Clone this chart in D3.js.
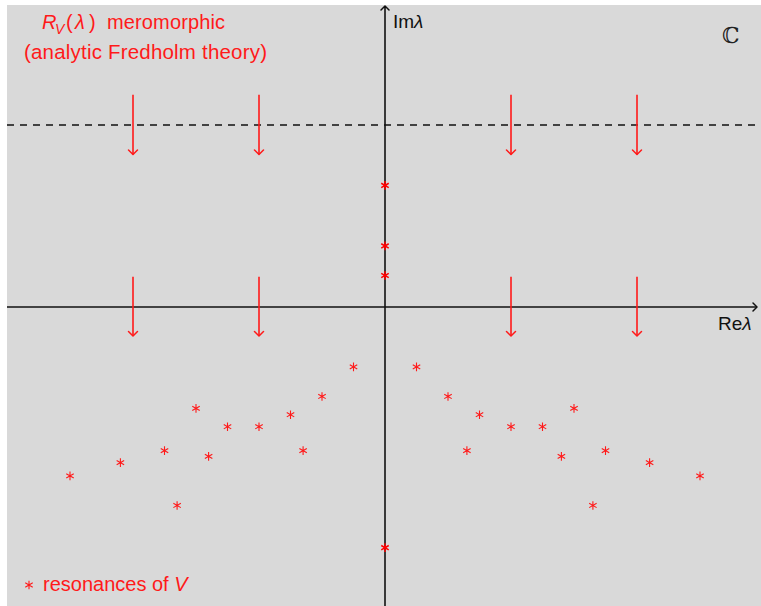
<!DOCTYPE html>
<html>
<head>
<meta charset="utf-8">
<script src="https://cdn.jsdelivr.net/npm/d3@7"></script>
<style>
  html, body { margin: 0; padding: 0; background: #ffffff; }
  svg { display: block; }
</style>
</head>
<body>
<script>
// ---- data (complex-plane coordinates) ----
const resonanceRe = [-5.0, -4.2, -3.5, -3.3, -3.0, -2.8, -2.5, -2.0, -1.5, -1.3, -1.0, -0.5,
                      0.5,  1.0,  1.5,  1.3,  2.0,  2.5,  3.0,  2.8,  3.5,  3.3,  4.2,  5.0];
const resonanceIm = [-2.68, -2.47, -2.28, -3.15, -1.61, -2.37, -1.90, -1.90, -1.71, -2.28, -1.42, -0.95,
                     -0.95, -1.42, -1.71, -2.28, -1.90, -1.90, -1.61, -2.37, -2.28, -3.15, -2.47, -2.68];
const axisResonanceIm = [1.93, 0.97, 0.50, -3.82];
const arrowRe = [-4, -2, 2, 4];
const arrowTopFrom = 3.37, arrowTopTo = 2.42;
const arrowLowFrom = 0.48, arrowLowTo = -0.46;
const dashedIm = 2.89;

const W = 761, H = 606;
const x = d3.scaleLinear().domain([-6, 6]).range([7, 763]);
const y = d3.scaleLinear().domain([-5, 5]).range([622, -8]);

const svg = d3.select("body").append("svg").attr("width", W).attr("height", H);

const RED = "#ff1a1a";
const FONT = "'Liberation Sans', Arial, sans-serif";

// background
svg.append("rect").attr("x", 7).attr("y", 5).attr("width", W - 7).attr("height", H - 5)
  .attr("fill", "#d9d9d9");

// dashed line
svg.append("line")
  .attr("x1", 7).attr("x2", W).attr("y1", y(dashedIm)).attr("y2", y(dashedIm))
  .attr("stroke", "#111").attr("stroke-width", 1.5).attr("stroke-dasharray", "7,6");

function arrowHead(g, tx, ty, dir, color, hw, len) {
  let p;
  if (dir === "down") p = [[tx - hw, ty - len], [tx, ty], [tx + hw, ty - len]];
  else if (dir === "up") p = [[tx - hw, ty + len], [tx, ty], [tx + hw, ty + len]];
  else p = [[tx - len, ty - hw], [tx, ty], [tx - len, ty + hw]];
  g.append("path").attr("d", d3.line()(p))
    .attr("fill", "none").attr("stroke", color).attr("stroke-width", 1.5)
    .attr("stroke-linecap", "round").attr("stroke-linejoin", "round");
}

// axes
const axes = svg.append("g");
axes.append("line").attr("x1", 7).attr("x2", 757).attr("y1", y(0)).attr("y2", y(0))
  .attr("stroke", "#111").attr("stroke-width", 1.6);
arrowHead(axes, 757, y(0), "right", "#111", 4, 4);
axes.append("line").attr("x1", x(0)).attr("x2", x(0)).attr("y1", H).attr("y2", 6)
  .attr("stroke", "#111").attr("stroke-width", 1.6);
arrowHead(axes, x(0), 6, "up", "#111", 4, 4);

// red arrows
const arr = svg.append("g");
[[arrowTopFrom, arrowTopTo], [arrowLowFrom, arrowLowTo]].forEach(([a, b]) => {
  arrowRe.forEach(r => {
    arr.append("line").attr("x1", x(r)).attr("x2", x(r)).attr("y1", y(a)).attr("y2", y(b))
      .attr("stroke", RED).attr("stroke-width", 1.6);
    arrowHead(arr, x(r), y(b), "down", RED, 4.5, 4.5);
  });
});

// resonances
const star = d3.symbol().type(d3.symbolAsterisk).size(52);
const pts = resonanceRe.map((r, i) => ({ re: r, im: resonanceIm[i] }));
svg.append("g").selectAll("path.res").data(pts).join("path").attr("class", "res")
  .attr("d", star)
  .attr("transform", d => `translate(${x(d.re)},${y(d.im)})`)
  .attr("fill", "none").attr("stroke", RED).attr("stroke-width", 1.1);
svg.append("g").selectAll("path.ares").data(axisResonanceIm).join("path").attr("class", "ares")
  .attr("d", star)
  .attr("transform", d => `translate(${x(0)},${y(d)})`)
  .attr("fill", "none").attr("stroke", "#ff0000").attr("stroke-width", 1.5);

// texts
const t1 = svg.append("text").attr("y", 29).attr("fill", RED)
  .attr("font-family", FONT).attr("font-size", 20);
t1.append("tspan").attr("x", 42).attr("font-style", "italic").text("R");
t1.append("tspan").attr("x", 55).attr("font-style", "italic").attr("font-size", 14).attr("dy", 5).text("V");
t1.append("tspan").attr("x", 66).attr("dy", -5).text("(");
t1.append("tspan").attr("x", 75).attr("font-style", "italic").text("λ");
t1.append("tspan").attr("x", 89).text(")");
t1.append("tspan").attr("x", 107).attr("textLength", 118).attr("lengthAdjust", "spacing").text("meromorphic");

svg.append("text").attr("x", 24).attr("y", 59).attr("fill", RED)
  .attr("font-family", FONT).attr("font-size", 20.5)
  .attr("textLength", 243).attr("lengthAdjust", "spacing")
  .text("(analytic Fredholm theory)");

const im = svg.append("text").attr("x", 393).attr("y", 28).attr("fill", "#111")
  .attr("font-family", FONT).attr("font-size", 19);
im.append("tspan").text("Im");
im.append("tspan").attr("font-style", "italic").text("λ");

const re = svg.append("text").attr("x", 718).attr("y", 330).attr("fill", "#111")
  .attr("font-family", FONT).attr("font-size", 19);
re.append("tspan").text("Re");
re.append("tspan").attr("font-style", "italic").text("λ");

svg.append("text").attr("x", 722).attr("y", 43).attr("fill", "#222")
  .attr("font-family", "'DejaVu Serif', serif").attr("font-size", 22).text("ℂ");

// legend
svg.append("path").attr("d", star).attr("transform", "translate(29,585)")
  .attr("fill", "none").attr("stroke", RED).attr("stroke-width", 1.1);
const leg = svg.append("text").attr("x", 43).attr("y", 591).attr("fill", RED)
  .attr("font-family", FONT).attr("font-size", 20);
leg.append("tspan").text("resonances of ");
leg.append("tspan").attr("font-style", "italic").text("V");
</script>
</body>
</html>
